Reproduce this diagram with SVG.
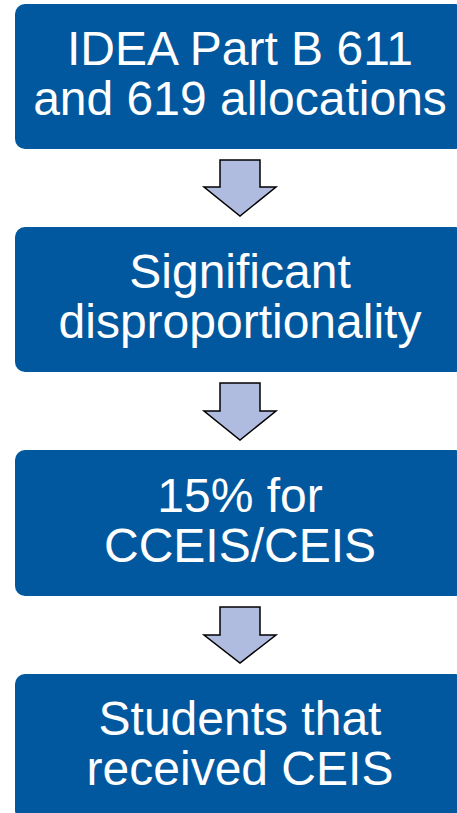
<svg xmlns="http://www.w3.org/2000/svg" width="457" height="813" viewBox="0 0 457 813">
<style>
.box{fill:#02589E;}
.lbl{fill:#FFFFFF;font-family:"Liberation Sans",Arial,sans-serif;font-size:48px;text-anchor:middle;}
.arr{fill:#B0BCDF;stroke:#000000;stroke-width:1.5;stroke-linejoin:miter;}
</style>
<rect width="457" height="813" fill="#FFFFFF"/>
<g id="connectors">
<polygon class="arr" points="220,160 260,160 260,187 276,187 240,216 204,187 220,187"/>
<polygon class="arr" points="220,383 260,383 260,411 276,411 240,440 204,411 220,411"/>
<polygon class="arr" points="220,607 260,607 260,635 276,635 240,663 204,635 220,635"/>
</g>
<g id="node1">
<rect class="box" x="15" y="4" width="450" height="145" rx="10"/>
<text class="lbl" x="240" y="65">IDEA Part B 611</text>
<text class="lbl" x="240" y="115">and 619 allocations</text>
</g>
<g id="node2">
<rect class="box" x="15" y="227" width="450" height="145" rx="10"/>
<text class="lbl" x="240" y="288">Significant</text>
<text class="lbl" x="240" y="338">disproportionality</text>
</g>
<g id="node3">
<rect class="box" x="15" y="450" width="450" height="146" rx="10"/>
<text class="lbl" x="240" y="512">15% for</text>
<text class="lbl" x="240" y="562">CCEIS/CEIS</text>
</g>
<g id="node4">
<rect class="box" x="15" y="674" width="450" height="146" rx="10"/>
<text class="lbl" x="240" y="735">Students that</text>
<text class="lbl" x="240" y="785">received CEIS</text>
</g>
</svg>
